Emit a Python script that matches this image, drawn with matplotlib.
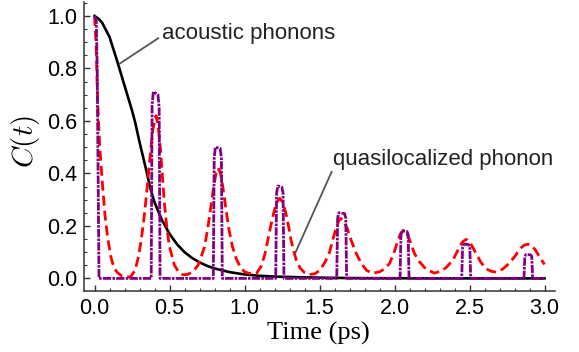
import numpy as np
import matplotlib
matplotlib.use('Agg')
import matplotlib.pyplot as plt
from matplotlib.ticker import MultipleLocator

# acoustic phonons (black)
t_ac = [0.0, 0.025, 0.05, 0.1, 0.15, 0.2, 0.25, 0.27, 0.3, 0.35, 0.37, 0.4, 0.45, 0.5,
        0.55, 0.6, 0.65, 0.7, 0.75, 0.8, 0.9, 1.0, 1.1, 1.2, 1.4, 1.6, 1.8, 2.0, 2.5, 3.0]
c_ac = [1.0, 0.99, 0.975, 0.92, 0.83, 0.735, 0.64, 0.597, 0.52, 0.40, 0.348, 0.29, 0.222, 0.17,
        0.13, 0.10, 0.078, 0.061, 0.048, 0.038, 0.024, 0.015, 0.010, 0.007, 0.004, 0.002, 0.001,
        0.0005, 0.0, 0.0]

# quasilocalized phonon (red dashed)
t_ql = [0.0, 0.01, 0.022, 0.035, 0.055, 0.07, 0.088, 0.11, 0.13, 0.153, 0.18, 0.21, 0.24,
        0.27, 0.29, 0.31, 0.33, 0.345, 0.36, 0.375, 0.39, 0.41, 0.425, 0.44, 0.455, 0.467, 0.485,
        0.5, 0.533, 0.56, 0.59, 0.62,
        0.655, 0.69, 0.71, 0.733, 0.755, 0.775, 0.795, 0.81, 0.825, 0.84, 0.855, 0.875, 0.895,
        0.92, 0.945, 0.97, 1.0, 1.04, 1.078,
        1.11, 1.135, 1.155, 1.175, 1.195, 1.215, 1.235, 1.255, 1.275, 1.295, 1.31, 1.33, 1.345,
        1.37, 1.4, 1.433, 1.47,
        1.5, 1.535, 1.567, 1.59, 1.61, 1.625, 1.64, 1.66, 1.685, 1.71, 1.745, 1.778, 1.815,
        1.855, 1.9,
        1.93, 1.967, 1.995, 2.02, 2.04, 2.06, 2.08, 2.105, 2.133, 2.167, 2.21, 2.267, 2.32,
        2.35, 2.39, 2.433, 2.455, 2.478, 2.5, 2.52, 2.544, 2.575, 2.61, 2.645, 2.68,
        2.72, 2.76, 2.8, 2.84, 2.865, 2.89, 2.915, 2.94, 2.967, 3.0]
c_ql = [1.0, 0.9, 0.66, 0.5, 0.344, 0.24, 0.154, 0.08, 0.04, 0.022, 0.01, 0.006, 0.006,
        0.03, 0.075, 0.14, 0.23, 0.31, 0.40, 0.49, 0.57, 0.62, 0.58, 0.49, 0.37, 0.28, 0.18,
        0.12, 0.05, 0.025, 0.014, 0.015,
        0.025, 0.05, 0.08, 0.12, 0.19, 0.27, 0.35, 0.40, 0.42, 0.40, 0.35, 0.27, 0.19,
        0.12, 0.075, 0.045, 0.025, 0.018, 0.018,
        0.045, 0.09, 0.145, 0.2, 0.25, 0.29, 0.305, 0.29, 0.25, 0.195, 0.147, 0.1, 0.07,
        0.04, 0.022, 0.015, 0.018,
        0.03, 0.06, 0.10, 0.15, 0.19, 0.215, 0.229, 0.22, 0.19, 0.147, 0.095, 0.057, 0.03,
        0.02, 0.025,
        0.035, 0.057, 0.095, 0.14, 0.17, 0.184, 0.175, 0.14, 0.095, 0.063, 0.035, 0.02, 0.03,
        0.045, 0.07, 0.12, 0.14, 0.149, 0.14, 0.12, 0.095, 0.062, 0.037, 0.027, 0.024,
        0.035, 0.055, 0.082, 0.115, 0.127, 0.13, 0.125, 0.108, 0.082, 0.053]

# third curve (purple dash-dot)
t_pp = [0.0, 0.012, 0.018, 0.03,
        0.378, 0.384, 0.392, 0.423, 0.431, 0.437,
        0.792, 0.798, 0.806, 0.838, 0.846, 0.852,
        1.208, 1.214, 1.222, 1.249, 1.257, 1.263,
        1.615, 1.621, 1.629, 1.667, 1.675, 1.681,
        2.037, 2.043, 2.051, 2.083, 2.091, 2.097,
        2.448, 2.454, 2.462, 2.494, 2.502, 2.508,
        2.863, 2.869, 2.877, 2.907, 2.915, 2.921, 3.0]
c_pp = [1.0, 0.98, 0.8, 0.0,
        0.0, 0.66, 0.711, 0.70, 0.65, 0.0,
        0.0, 0.46, 0.50, 0.495, 0.46, 0.0,
        0.0, 0.325, 0.352, 0.348, 0.325, 0.0,
        0.0, 0.23, 0.25, 0.247, 0.23, 0.0,
        0.0, 0.167, 0.181, 0.179, 0.167, 0.0,
        0.0, 0.12, 0.131, 0.129, 0.12, 0.0,
        0.0, 0.084, 0.091, 0.09, 0.084, 0.0, 0.0]

plt.rcParams['font.family'] = ['Liberation Sans', 'DejaVu Sans']
plt.rcParams['mathtext.fontset'] = 'cm'

fig = plt.figure(figsize=(5.79, 3.52), dpi=100)
ax = fig.add_axes([84/579, 1-291/352, 471/579, 289/352])

ax.plot(t_ac, c_ac, color='black', lw=1.9, zorder=2)
ax.plot(t_ql, c_ql, color='#ff0000', lw=2.0, linestyle=(0, (3.6, 1.8)), zorder=3)
ax.plot(t_pp, c_pp, color='#800080', lw=2.0, linestyle=(0, (3, 0.45, 0.9, 0.45)), zorder=4)

ax.set_xlim(-0.07, 3.07)
ax.set_ylim(-0.048, 1.053)

for s in ['top', 'right']:
    ax.spines[s].set_visible(False)
for s in ['left', 'bottom']:
    ax.spines[s].set_color('#333333')
    ax.spines[s].set_linewidth(1.1)

ax.xaxis.set_major_locator(MultipleLocator(0.5))
ax.xaxis.set_minor_locator(MultipleLocator(0.1))
ax.yaxis.set_major_locator(MultipleLocator(0.2))
ax.yaxis.set_minor_locator(MultipleLocator(0.05))
ax.xaxis.set_major_formatter(matplotlib.ticker.FormatStrFormatter('%.1f'))
ax.yaxis.set_major_formatter(matplotlib.ticker.FormatStrFormatter('%.1f'))
ax.tick_params(which='both', direction='in', color='#333333', labelsize=15.5, pad=5)
ax.tick_params(which='major', length=4, width=1.0)
ax.tick_params(which='minor', length=2.2, width=0.8)

# annotations
ax.plot([0.425, 0.17], [0.915, 0.819], color='#555555', lw=1.3)
ax.text(0.452, 0.912, 'acoustic phonons', fontsize=16, color='#222222', va='baseline')
ax.plot([1.581, 1.337], [0.406, 0.095], color='#555555', lw=1.3)
ax.text(1.592, 0.432, 'quasilocalized phonon', fontsize=16, color='#222222', va='baseline')

fig.text(318.5/579, 1-333/352, 'Time (ps)', family='Liberation Serif', fontsize=19,
         ha='center', va='center')
fig.text(26/579, 1-141/352, r'$C(t)$', fontsize=21, rotation=90, ha='center', va='center')

fig.savefig('out.png', dpi=100)
